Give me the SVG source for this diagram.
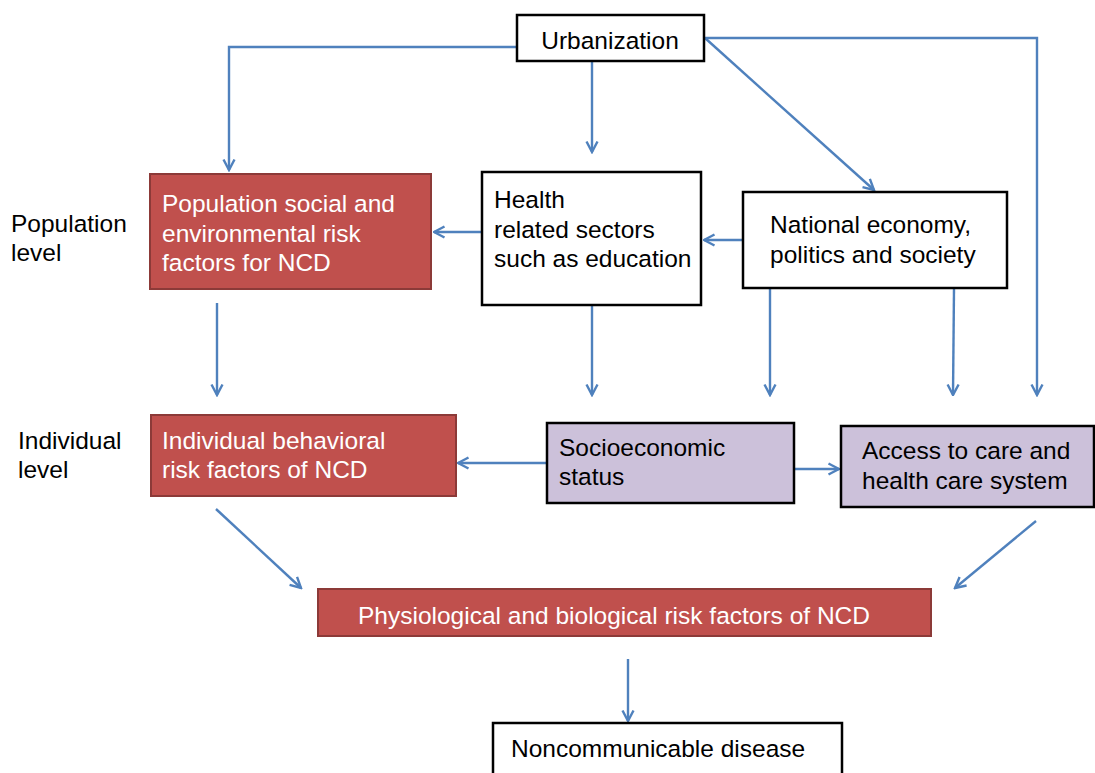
<svg xmlns="http://www.w3.org/2000/svg" width="1095" height="773" viewBox="0 0 1095 773">
<defs>
<marker id="arr" viewBox="0 0 14 14" refX="12.5" refY="7" markerWidth="14" markerHeight="14" markerUnits="userSpaceOnUse" orient="auto">
<path d="M2,1.5 L12.5,7 L2,12.5" fill="none" stroke="#4F81BD" stroke-width="2.4"/>
</marker>
</defs>
<style>
text{font-family:"Liberation Sans",Arial,sans-serif;font-size:24.5px;fill:#000}
.w{fill:#fff}
.box{fill:#fff;stroke:#000;stroke-width:2.5}
.red{fill:#C0504D;stroke:#8C3A38;stroke-width:2}
.lav{fill:#CCC1DA;stroke:#000;stroke-width:2.5}
.c{fill:none;stroke:#4F81BD;stroke-width:2.4;marker-end:url(#arr)}
</style>
<rect width="1095" height="773" fill="#fff"/>
<g id="connectors">
<polyline class="c" points="517,47 229,47 229,170"/>
<line class="c" x1="592" y1="61" x2="592" y2="152"/>
<line class="c" x1="705" y1="38" x2="874" y2="190"/>
<polyline class="c" points="704,38 1037,38 1037,395"/>
<line class="c" x1="482" y1="232" x2="434" y2="232"/>
<line class="c" x1="742" y1="240" x2="704" y2="240"/>
<line class="c" x1="217" y1="303" x2="217" y2="395"/>
<line class="c" x1="592" y1="305" x2="592" y2="395"/>
<line class="c" x1="770" y1="289" x2="770" y2="395"/>
<line class="c" x1="954" y1="289" x2="953" y2="395"/>
<line class="c" x1="546" y1="463" x2="458" y2="463"/>
<line class="c" x1="794" y1="469" x2="839" y2="469"/>
<line class="c" x1="216" y1="509" x2="301" y2="588"/>
<line class="c" x1="1036" y1="521" x2="955" y2="588"/>
<line class="c" x1="628" y1="659" x2="628" y2="721"/>
</g>
<g id="level-labels">
<text x="11" y="232">Population</text>
<text x="11" y="261">level</text>
<text x="18" y="449">Individual</text>
<text x="18" y="478">level</text>
</g>
<g id="urbanization">
<rect class="box" x="517" y="15" width="187" height="46"/>
<text x="610" y="49" text-anchor="middle">Urbanization</text>
</g>
<g id="population">
<rect class="red" x="150" y="174" width="281" height="115"/>
<text class="w" x="162" y="212">Population social and</text>
<text class="w" x="162" y="242">environmental risk</text>
<text class="w" x="162" y="271">factors for NCD</text>
</g>
<g id="health">
<rect class="box" x="482" y="172" width="219" height="133"/>
<text x="494" y="208">Health</text>
<text x="494" y="238">related sectors</text>
<text x="494" y="267">such as education</text>
</g>
<g id="national">
<rect class="box" x="743" y="192" width="264" height="96"/>
<text x="770" y="233">National economy,</text>
<text x="770" y="263">politics and society</text>
</g>
<g id="individual">
<rect class="red" x="151" y="415" width="305" height="81"/>
<text class="w" x="162" y="449">Individual behavioral</text>
<text class="w" x="162" y="478">risk factors of NCD</text>
</g>
<g id="socioeconomic">
<rect class="lav" x="547" y="423" width="247" height="80"/>
<text x="559" y="456">Socioeconomic</text>
<text x="559" y="485">status</text>
</g>
<g id="access">
<rect class="lav" x="841" y="426" width="253" height="81"/>
<text x="862" y="459">Access to care and</text>
<text x="862" y="489">health care system</text>
</g>
<g id="physiological">
<rect class="red" x="318" y="589" width="613" height="47"/>
<text class="w" x="358" y="624">Physiological and biological risk factors of NCD</text>
</g>
<g id="ncd">
<rect class="box" x="493" y="723" width="349" height="60"/>
<text x="511" y="757">Noncommunicable disease</text>
</g>
</svg>
